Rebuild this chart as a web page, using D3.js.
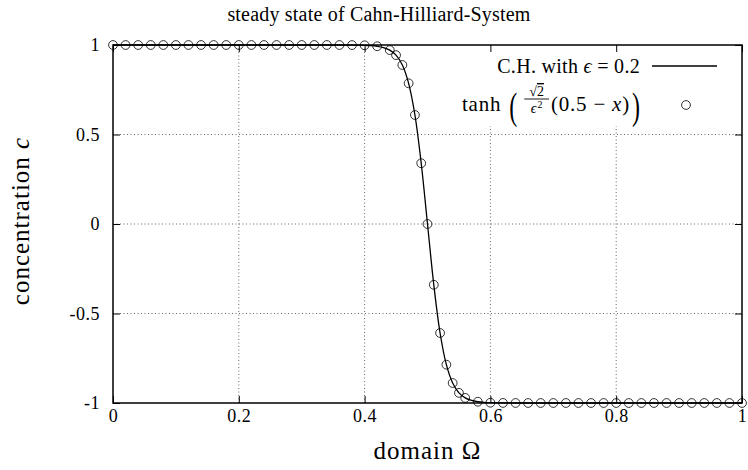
<!DOCTYPE html>
<html>
<head>
<meta charset="utf-8">
<script src="https://cdn.jsdelivr.net/npm/d3@7"></script>
<style>
  html, body { margin: 0; padding: 0; background: #fff; }
  svg { display: block; }
  text { font-family: "Liberation Serif", "Times New Roman", serif; fill: #000; }
</style>
</head>
<body>
<svg id="chart" width="748" height="470"></svg>
<script>
// Sample points of the analytic profile tanh(sqrt(2)/eps^2 * (0.5 - x)), eps = 0.2
const tanhX = [0, 0.02, 0.04, 0.06, 0.08, 0.10, 0.12, 0.14, 0.16, 0.18, 0.20,
  0.22, 0.24, 0.26, 0.28, 0.30, 0.32, 0.34, 0.36, 0.38, 0.40, 0.42, 0.44,
  0.45, 0.46, 0.47, 0.48, 0.49, 0.50, 0.51, 0.52, 0.53, 0.54, 0.55, 0.56,
  0.58, 0.60, 0.62, 0.64, 0.66, 0.68, 0.70, 0.72, 0.74, 0.76, 0.78, 0.80,
  0.82, 0.84, 0.86, 0.88, 0.90, 0.92, 0.94, 0.96, 0.98, 1.00];
const tanhC = [1, 1, 1, 1, 1, 1, 1, 1, 1, 1, 1,
  1, 1, 1, 1, 1, 1, 1, 0.9999, 0.9996, 0.9983, 0.9930, 0.9716,
  0.9433, 0.8884, 0.7859, 0.6089, 0.3395, 0, -0.3395, -0.6089, -0.7859, -0.8884, -0.9433, -0.9716,
  -0.9930, -0.9983, -0.9996, -0.9999, -1, -1, -1, -1, -1, -1, -1, -1,
  -1, -1, -1, -1, -1, -1, -1, -1, -1, -1];

// Numerical Cahn-Hilliard steady state
const chX = [0, 0.36, 0.38, 0.39, 0.40, 0.41, 0.42, 0.43, 0.44, 0.45, 0.46, 0.47,
  0.48, 0.49, 0.50, 0.51, 0.52, 0.53, 0.54, 0.55, 0.56, 0.57, 0.58, 0.59,
  0.60, 0.61, 0.62, 0.64, 1];
const chC = [1, 0.9999, 0.9996, 0.9992, 0.9983, 0.9966, 0.9930, 0.9860, 0.9716, 0.9433, 0.8884, 0.7859,
  0.6089, 0.3395, 0, -0.3395, -0.6089, -0.7859, -0.8884, -0.9433, -0.9716, -0.9860, -0.9930, -0.9966,
  -0.9983, -0.9992, -0.9996, -0.9999, -1];

const xTicks = [0, 0.2, 0.4, 0.6, 0.8, 1];
const yTicks = [-1, -0.5, 0, 0.5, 1];
const xTickLabels = ["0", "0.2", "0.4", "0.6", "0.8", "1"];
const yTickLabels = ["-1", "-0.5", "0", "0.5", "1"];

const svg = d3.select("#chart");
const L = 113, R = 742, T = 45, B = 403;
const x = d3.scaleLinear().domain([0, 1]).range([L, R]);
const y = d3.scaleLinear().domain([-1, 1]).range([B, T]);

// grid
const grid = svg.append("g").attr("stroke", "#000").attr("stroke-width", 0.8)
  .attr("stroke-dasharray", "1,2.5").attr("opacity", 0.75);
grid.selectAll("line.gx").data(xTicks.slice(1, -1)).join("line")
  .attr("x1", d => x(d)).attr("x2", d => x(d)).attr("y1", T).attr("y2", B);
grid.selectAll("line.gy").data(yTicks.slice(1, -1)).join("line")
  .attr("x1", L).attr("x2", R).attr("y1", d => y(d)).attr("y2", d => y(d));

// legend background
svg.append("rect").attr("x", 436).attr("y", T + 1).attr("width", R - 437).attr("height", 80)
  .attr("fill", "#fff");

// axes with inward ticks
function styleAxis(g) {
  g.select(".domain").remove();
  g.selectAll(".tick line").attr("stroke", "#000").attr("stroke-width", 1);
  g.selectAll(".tick text").style("font-family", "Liberation Serif, serif").style("font-size", "18px")
    .style("letter-spacing", "0.5px").attr("fill", "#000");
}
svg.append("g").attr("transform", `translate(0,${B})`)
  .call(d3.axisBottom(x).tickValues(xTicks).tickSize(-7).tickSizeOuter(0).tickPadding(6)
    .tickFormat((d, i) => xTickLabels[i]))
  .call(styleAxis);
svg.append("g").attr("transform", `translate(0,${T})`)
  .call(d3.axisTop(x).tickValues(xTicks).tickSize(-7).tickSizeOuter(0).tickFormat(""))
  .call(styleAxis);
svg.append("g").attr("transform", `translate(${L},0)`)
  .call(d3.axisLeft(y).tickValues(yTicks).tickSize(-7).tickSizeOuter(0).tickPadding(13)
    .tickFormat((d, i) => yTickLabels[i]))
  .call(styleAxis);
svg.append("g").attr("transform", `translate(${R},0)`)
  .call(d3.axisRight(y).tickValues(yTicks).tickSize(-7).tickSizeOuter(0).tickFormat(""))
  .call(styleAxis);

// frame
svg.append("rect").attr("x", L).attr("y", T).attr("width", R - L).attr("height", B - T)
  .attr("fill", "none").attr("stroke", "#000").attr("stroke-width", 1.5);

// numerical solution
const line = d3.line().x((d, i) => x(chX[i])).y(d => y(d)).curve(d3.curveCatmullRom);
svg.append("path").datum(chC).attr("d", line)
  .attr("fill", "none").attr("stroke", "#000").attr("stroke-width", 1.3);

// analytic points
svg.append("g").selectAll("circle").data(tanhC).join("circle")
  .attr("cx", (d, i) => x(tanhX[i])).attr("cy", d => y(d)).attr("r", 4.4)
  .attr("fill", "none").attr("stroke", "#000").attr("stroke-width", 0.8);

// title and axis labels
svg.append("text").attr("x", 379).attr("y", 21).attr("text-anchor", "middle")
  .style("font-size", "20px").style("letter-spacing", "0.2px").text("steady state of Cahn-Hilliard-System");
const xl = svg.append("text").attr("x", (L + R) / 2).attr("y", 459).attr("text-anchor", "middle")
  .style("font-size", "25px").style("letter-spacing", "1px");
xl.append("tspan").text("domain Ω");
const yl = svg.append("text").attr("transform", `translate(29,${(T + B) / 2 - 3}) rotate(-90)`)
  .attr("text-anchor", "middle").style("font-size", "25px").style("letter-spacing", "1px");
yl.append("tspan").text("concentration ");
yl.append("tspan").style("font-style", "italic").text("c");

// legend
const lg = svg.append("g");
const e1 = lg.append("text").attr("x", 640).attr("y", 73).attr("text-anchor", "end")
  .style("font-size", "20px").style("letter-spacing", "0.3px");
e1.append("tspan").text("C.H. with ");
e1.append("tspan").style("font-style", "italic").text("ϵ");
e1.append("tspan").text(" = 0.2");
lg.append("line").attr("x1", 652).attr("x2", 717).attr("y1", 66).attr("y2", 66)
  .attr("stroke", "#000").attr("stroke-width", 1.3);
lg.append("circle").attr("cx", 686).attr("cy", 105).attr("r", 4.4)
  .attr("fill", "none").attr("stroke", "#000").attr("stroke-width", 0.8);

// tanh( sqrt2/eps^2 (0.5 - x) ), laid out left to right then shifted to end at 640
const m = lg.append("g");
const base = 111;
let cx = 0;
const tTanh = m.append("text").attr("x", 0).attr("y", base).style("font-size", "21px")
  .style("letter-spacing", "0.8px").text("tanh");
cx += tTanh.node().getComputedTextLength() + 8;
const lp = m.append("text").attr("transform", `translate(${cx},${base + 8}) scale(1,1.55)`)
  .style("font-size", "24px").text("(");
cx += lp.node().getComputedTextLength() + 6;
// fraction: numerator, bar, denominator and its exponent as separate pieces
const num = m.append("text").attr("y", base - 15).style("font-size", "14px");
num.append("tspan").text("√");
num.append("tspan").style("text-decoration", "overline").text("2");
const den = m.append("text").attr("y", base + 2).style("font-size", "14px")
  .style("font-style", "italic").text("ϵ");
const sup = m.append("text").attr("y", base - 3).style("font-size", "10px").text("2");
const dw = den.node().getComputedTextLength() + sup.node().getComputedTextLength() + 1;
const fw = Math.max(num.node().getComputedTextLength(), dw) + 12;
num.attr("x", cx + fw / 2).attr("text-anchor", "middle");
den.attr("x", cx + (fw - dw) / 2);
sup.attr("x", cx + (fw - dw) / 2 + den.node().getComputedTextLength() + 1);
m.append("line").attr("x1", cx + 1).attr("x2", cx + fw - 1).attr("y1", base - 12).attr("y2", base - 12)
  .attr("stroke", "#000").attr("stroke-width", 0.9);
cx += fw + 1;
const arg = m.append("text").attr("x", cx).attr("y", base).style("font-size", "21px")
  .style("letter-spacing", "0.8px");
arg.append("tspan").text("(0.5");
arg.append("tspan").attr("dx", 6).text("−");
arg.append("tspan").attr("dx", 6).style("font-style", "italic").text("x");
arg.append("tspan").text(")");
cx += arg.node().getComputedTextLength() + 12 + 2;
const rp = m.append("text").attr("transform", `translate(${cx},${base + 8}) scale(1,1.55)`)
  .style("font-size", "24px").text(")");
cx += rp.node().getComputedTextLength();
m.attr("transform", `translate(${640 - cx},0)`);
</script>
</body>
</html>
